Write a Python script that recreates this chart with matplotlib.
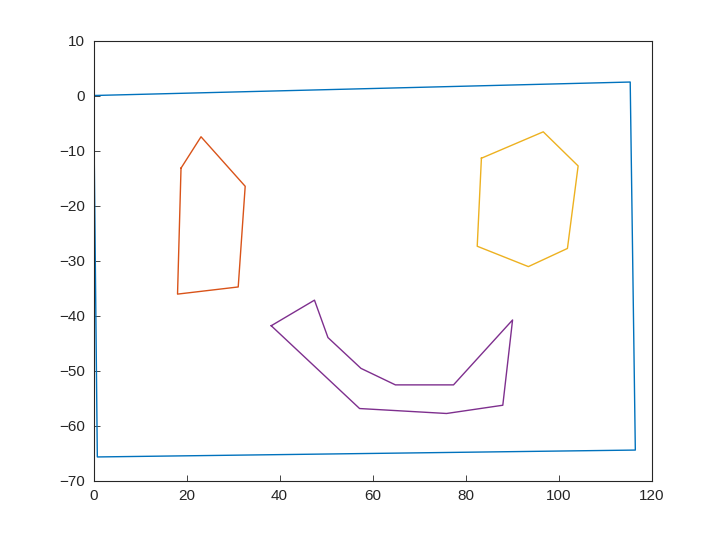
import matplotlib
matplotlib.use('Agg')
import matplotlib.pyplot as plt

# outline (blue)
frame_x = [0, 115.4, 116.5, 0.8, 0]
frame_y = [0, 2.45, -64.45, -65.7, 0]

# left eye (orange)
eye1_x = [18.8, 23.1, 32.6, 31.1, 18.05, 18.8]
eye1_y = [-13.2, -7.5, -16.5, -34.8, -36.1, -13.2]

# right eye (yellow)
eye2_x = [83.4, 96.7, 104.2, 101.9, 93.5, 82.5, 83.4]
eye2_y = [-11.4, -6.6, -12.8, -27.8, -31.1, -27.4, -11.4]

# mouth (purple)
mouth_x = [38.2, 47.5, 50.4, 57.5, 64.9, 77.4, 90.1, 88.0, 75.9, 57.2, 38.2]
mouth_y = [-41.85, -37.2, -44.0, -49.6, -52.6, -52.6, -40.8, -56.3, -57.8, -56.9, -41.85]

colors = [(0, 0.447, 0.741), (0.85, 0.325, 0.098),
          (0.929, 0.694, 0.125), (0.494, 0.184, 0.556)]

plt.rcParams['font.family'] = ['Liberation Sans', 'DejaVu Sans']

fig = plt.figure(figsize=(7.2, 5.4), dpi=100)
ax = fig.add_axes([0.13, 0.11, 0.775, 0.815])

for (xs, ys), c in zip([(frame_x, frame_y), (eye1_x, eye1_y),
                        (eye2_x, eye2_y), (mouth_x, mouth_y)], colors):
    ax.plot(xs, ys, color=c, linewidth=1.0)

ax.set_xlim(0, 120)
ax.set_ylim(-70, 10)
ax.set_xticks(range(0, 121, 20))
ax.set_yticks(range(-70, 11, 10))
for s in ax.spines.values():
    s.set_color('0.15')
    s.set_linewidth(0.8)
ax.tick_params(direction='in', length=4, width=0.6, colors='0.15',
               labelsize=11, pad=6)

fig.savefig('out.png', dpi=100)
